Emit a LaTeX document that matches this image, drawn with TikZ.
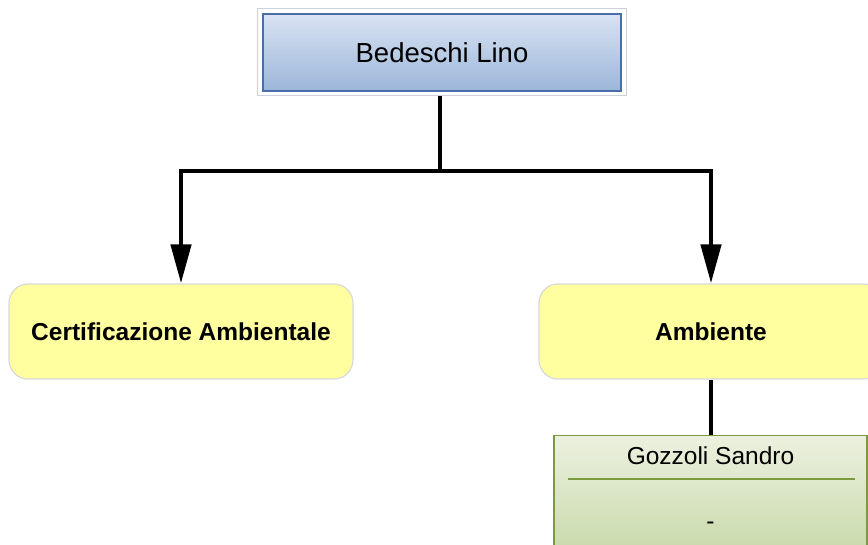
\documentclass[tikz,border=0pt]{standalone}
\usepackage{fontspec}
\setmainfont{Liberation Sans}
\usetikzlibrary{arrows.meta,positioning}

\definecolor{bossframe}{rgb}{0.800000, 0.820000, 0.860000}
\definecolor{bossline}{rgb}{0.290000, 0.430000, 0.660000}
\definecolor{bosstop}{rgb}{0.850000, 0.890000, 0.950000}
\definecolor{bossbottom}{rgb}{0.610000, 0.715000, 0.855000}
\definecolor{unitfill}{rgb}{1.000000, 1.000000, 0.627000}
\definecolor{unitline}{rgb}{0.850000, 0.850000, 0.850000}
\definecolor{staffline}{rgb}{0.490000, 0.600000, 0.240000}
\definecolor{stafftop}{rgb}{0.925000, 0.945000, 0.875000}
\definecolor{staffbottom}{rgb}{0.760000, 0.835000, 0.630000}

\tikzset{
  bossbox/.style={rectangle, draw=bossline, line width=1.2pt, top color=bosstop,
    bottom color=bossbottom, minimum width=358pt, minimum height=77pt, inner sep=0pt,
    font=\fontsize{27.5pt}{30pt}\selectfont},
  unitbox/.style={rectangle, rounded corners=19pt, draw=unitline, line width=1.2pt,
    fill=unitfill, minimum width=344pt, minimum height=95pt, inner sep=0pt,
    font=\fontsize{24.5pt}{28pt}\selectfont\bfseries},
  staffbox/.style={rectangle, draw=staffline, line width=1.2pt, top color=stafftop,
    bottom color=staffbottom, minimum width=313pt, minimum height=140pt, inner sep=0pt},
  stafftext/.style={inner sep=0pt, font=\fontsize{24.5pt}{28pt}\selectfont},
  link/.style={line width=4.5pt},
  linkarrow/.style={link, -{Triangle[length=39pt,width=20pt]}},
}

\begin{document}
\begin{tikzpicture}[x=1pt,y=-1pt]
\useasboundingbox (0,0) rectangle (868,545);
\clip (0,0) rectangle (868,545);
% top of the chart
\node[rectangle, draw=bossframe, line width=1pt, minimum width=369pt, minimum height=87pt]
  (frame) at (441.5,52.5) {};
\node[bossbox] (lino) at (442,52.5) {Bedeschi Lino};
% units
\node[unitbox] (cert) at (181,331.5) {Certificazione Ambientale};
\node[unitbox] (amb) at (711,331.5) {Ambiente};
% staff of the unit
\node[staffbox, anchor=north] (sandro) at (710.5,435) {};
\node[stafftext] (sandroname) at (710.5,456) {Gozzoli Sandro};
\draw[staffline, line width=1.2pt] (568,479) -- (855,479);
\node[stafftext] (sandrorole) at (710.5,526) {-};
% connectors
\coordinate (split) at (440,171);
\draw[link] (frame.south -| split) -- (split);
\draw[linkarrow] (split) -| (cert.north);
\draw[linkarrow] (split) -| (amb.north);
\draw[link] (amb.south) -- (amb.south |- sandro.north);
\end{tikzpicture}
\end{document}
